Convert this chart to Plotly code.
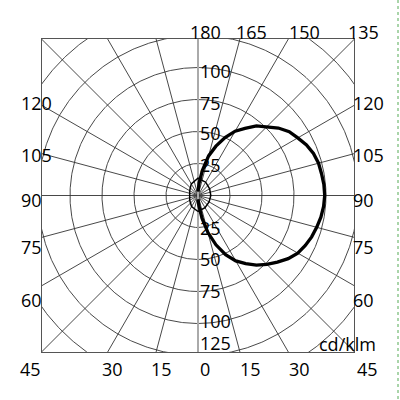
import numpy as np
import plotly.graph_objects as go

# ---- data ----
# C0-C180 plane: angle (deg, 0 = down, 90 = horizontal, 180 = up) and intensity (cd/klm)
angles_c0 = list(range(0, 181, 5))
intensity_c0 = [3, 8, 18, 30, 41, 51, 59, 65, 71, 76, 81, 86, 90, 92.5, 94.5, 96, 97.5,
                98.5, 99, 98.7, 98, 97.5, 96, 93.5, 90, 87, 82, 76, 71, 64, 58, 50, 41,
                32, 20, 10, 3]
# C90-C270 plane (full turn, 0 = down, clockwise to the right side first)
angles_c90 = [0, 30, 60, 90, 120, 150, 180, 210, 240, 270, 300, 330, 360]
intensity_c90 = [12.5, 11, 10, 10, 10.5, 12, 13.5, 10.5, 7.5, 6.5, 7.5, 10, 12.5]

ring_values = [25, 50, 75, 100, 125, 150]
ring_labels_up = ["100", "75", "50", "25"]
ring_labels_down = ["25", "50", "75", "100", "125"]
grid_angles = list(range(0, 360, 15))
top_labels = ["180", "165", "150", "135"]
bottom_labels = ["45", "30", "15", "0", "15", "30", "45"]
side_labels = ["120", "105", "90", "75", "60"]
unit_label = "cd/klm"


def to_xy(ang, r):
    a = np.radians(np.asarray(ang, dtype=float))
    r = np.asarray(r, dtype=float)
    return r * np.sin(a), -r * np.cos(a)


L, R, T, B = 42, 46, 39, 48
W, H = 400 - L - R, 400 - T - B
PX = 1.28  # pixels per cd/klm


def paper(xp, yp):
    return (xp - L) / W, 1 - (yp - T) / H


fig = go.Figure()

# rings
t = np.linspace(0, 360, 721)
rx, ry = [], []
for v in ring_values:
    x, y = to_xy(t, np.full_like(t, v))
    rx += list(x) + [None]
    ry += list(y) + [None]
fig.add_trace(go.Scatter(x=rx, y=ry, mode="lines", line=dict(color="#333", width=0.9),
                         hoverinfo="skip", showlegend=False))

# radial lines (except the vertical one)
lx, ly = [], []
for a in grid_angles:
    if a in (0, 180):
        continue
    x, y = to_xy([a, a], [0, 250])
    lx += list(x) + [None]
    ly += list(y) + [None]
fig.add_trace(go.Scatter(x=lx, y=ly, mode="lines", line=dict(color="#333", width=0.9),
                         hoverinfo="skip", showlegend=False))
vx, vy = to_xy([0, 180], [250, 250])
fig.add_trace(go.Scatter(x=vx, y=vy, mode="lines", line=dict(color="#aaa", width=2),
                         hoverinfo="skip", showlegend=False))

# C90 curve
x90, y90 = to_xy(angles_c90, intensity_c90)
fig.add_trace(go.Scatter(x=x90, y=y90, mode="lines", line=dict(color="black", width=1.5),
                         hoverinfo="skip", showlegend=False))
# C0 curve
x0, y0 = to_xy(angles_c0, intensity_c0)
fig.add_trace(go.Scatter(x=x0, y=y0, mode="lines", line=dict(color="black", width=3.3),
                         hoverinfo="skip", showlegend=False))

ann = []
font = dict(family="Open Sans", size=18, color="black")


def add(text, xp, yp, xanchor="center"):
    px_, py_ = paper(xp, yp)
    ann.append(dict(text=text, x=px_, y=py_, xref="paper", yref="paper", showarrow=False,
                    xanchor=xanchor, yanchor="middle", font=font))


for txt, xc in zip(top_labels, [205.5, 251.5, 304.5, 363.5]):
    add(txt, xc, 31.5)
for txt, xc in zip(bottom_labels, [30, 112, 161.7, 205, 250, 299, 367.5]):
    add(txt, xc, 368.5)
for txt, yc in zip(side_labels, [103, 155, 200, 246.7, 300]):
    add(txt, 19, yc, "left")
    add(txt, 351, yc, "left")
for txt, yc in zip(ring_labels_up, [71, 102.5, 133, 165]):
    add(txt, 197.5, yc, "left")
for txt, yc in zip(ring_labels_down, [228, 259, 291, 321, 343]):
    add(txt, 197.5, yc, "left")
add(unit_label, 378, 344, "right")

fig.update_layout(
    width=400, height=400,
    margin=dict(l=L, r=R, t=T, b=B, pad=0),
    paper_bgcolor="white", plot_bgcolor="white",
    xaxis=dict(range=[-(W / 2) / PX, (W / 2) / PX], showgrid=False, zeroline=False,
               showticklabels=False, ticks="", showline=True, mirror=True,
               linecolor="#555", linewidth=1.3, fixedrange=True),
    yaxis=dict(range=[-(H / 2) / PX, (H / 2) / PX], showgrid=False, zeroline=False,
               showticklabels=False, ticks="", showline=True, mirror=True,
               linecolor="#555", linewidth=1.3, fixedrange=True),
    annotations=ann,
    shapes=[dict(type="line", xref="paper", yref="paper",
                 x0=paper(398, 0)[0], x1=paper(398, 0)[0], y0=paper(0, 0)[1], y1=paper(0, 400)[1],
                 line=dict(color="#5a5", width=1, dash="dot"))],
)

fig.write_html("out.html")
